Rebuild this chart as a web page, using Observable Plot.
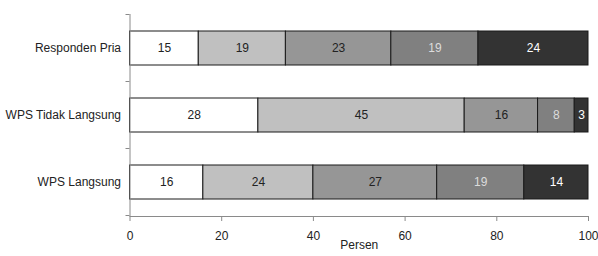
<!DOCTYPE html>
<html>
<head>
<meta charset="utf-8">
<script src="https://cdn.jsdelivr.net/npm/d3@7"></script>
<script src="https://cdn.jsdelivr.net/npm/@observablehq/plot@0.6"></script>
<style>
  html, body { margin: 0; padding: 0; background: #fff; }
</style>
</head>
<body>
<div id="chart"></div>
<script>
const categories = ["Responden Pria", "WPS Tidak Langsung", "WPS Langsung"];
const segments = ["s1", "s2", "s3", "s4", "s5"];
const respondenPria = [15, 19, 23, 19, 24];
const wpsTidakLangsung = [28, 45, 16, 8, 3];
const wpsLangsung = [16, 24, 27, 19, 14];
const xTicks = [0, 20, 40, 60, 80, 100];
const xLabel = "Persen";

const fillColors = ["#ffffff", "#c0c0c0", "#969696", "#808080", "#333333"];
const textColors = ["#222222", "#222222", "#222222", "#dcdcdc", "#ffffff"];

const seriesByCategory = [respondenPria, wpsTidakLangsung, wpsLangsung];
const rows = [];
categories.forEach((c, ci) => {
  seriesByCategory[ci].forEach((v, si) => {
    rows.push({category: c, segment: segments[si], value: v, si});
  });
});

const font = "Liberation Sans, Arial, Helvetica, sans-serif";
const textColorGroups = Array.from(new Set(textColors));

const chart = Plot.plot({
  width: 598,
  height: 256,
  marginLeft: 129.5,
  marginRight: 10,
  marginTop: 14,
  marginBottom: 40,
  style: {fontFamily: font, fontSize: "12px", color: "#222", background: "#fff"},
  x: {domain: [0, 100], ticks: xTicks},
  y: {domain: categories, paddingInner: 0.5, paddingOuter: 0.25, align: 0.5},
  color: {domain: segments, range: fillColors},
  marks: [
    Plot.barX(rows, Plot.stackX({
      x: "value", y: "category", fill: "segment",
      stroke: "#1a1a1a", strokeWidth: 1
    })),
    ...textColorGroups.map(tc => Plot.text(rows, Plot.stackX({
      x: "value", y: "category",
      text: d => textColors[d.si] === tc ? String(d.value) : "",
      fill: tc, fontSize: 12
    }))),
    Plot.ruleX([0], {stroke: "#8a8a8a", strokeWidth: 1}),
    Plot.frame({anchor: "bottom", stroke: "#8a8a8a", strokeWidth: 1}),
    Plot.axisX({ticks: xTicks, tickSize: 5, tickPadding: 10, stroke: "#8a8a8a", label: null, fontSize: 12, color: "#222"}),
    Plot.axisY({tickSize: 0, tickPadding: 9, label: null, fontSize: 12}),
    Plot.text([xLabel], {frameAnchor: "bottom", text: d => d, dy: 32, fontSize: 12, fill: "#222"})
  ]
});

// y-axis tick marks at category boundaries, positioned via the plot's scales
const ys = chart.scale("y");
const xs = chart.scale("x");
const x0 = xs.apply(0);
const gap = (ys.step - ys.bandwidth) / 2;
const bounds = categories.map(c => ys.apply(c) - gap);
bounds.push(ys.apply(categories[categories.length - 1]) + ys.bandwidth + gap);
d3.select(chart).append("g")
  .selectAll("line").data(bounds).join("line")
  .attr("x1", x0 - 4).attr("x2", x0)
  .attr("y1", d => d).attr("y2", d => d)
  .attr("stroke", "#8a8a8a");

document.getElementById("chart").appendChild(chart);
</script>
</body>
</html>
